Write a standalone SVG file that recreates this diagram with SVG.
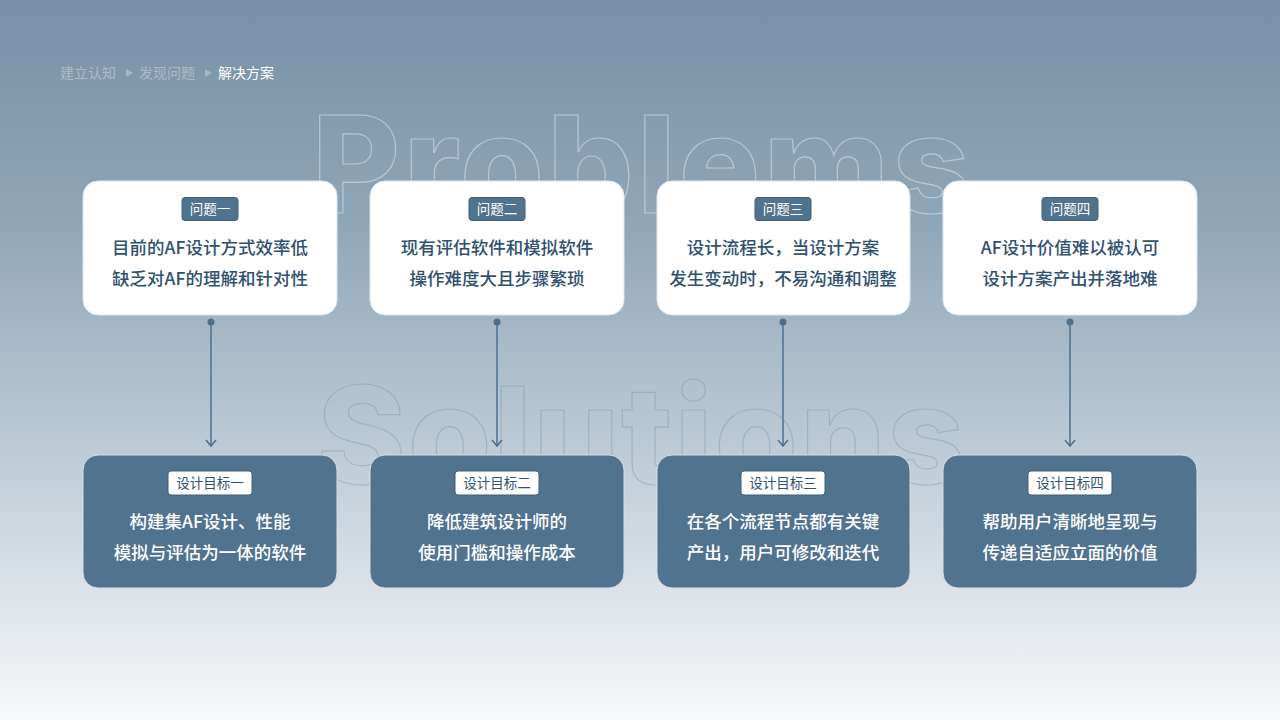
<svg xmlns="http://www.w3.org/2000/svg" width="1280" height="720" viewBox="0 0 1280 720">
<defs>
<linearGradient id="bg" x1="0" y1="0" x2="0" y2="1">
<stop offset="0" stop-color="#7891a7"/>
<stop offset="0.3" stop-color="#8ea5b7"/>
<stop offset="0.6" stop-color="#bac8d3"/>
<stop offset="0.85" stop-color="#e0e6eb"/>
<stop offset="1" stop-color="#f8f9fa"/>
</linearGradient>
<style>
.crumb{font-family:"Noto Sans CJK SC","Noto Sans",sans-serif;font-size:14px;}
.wm{font-family:Inter,"Liberation Sans",sans-serif;font-weight:800;font-size:135px;fill:none;stroke-width:1.2;}
.pcard{fill:#ffffff;stroke:#dfe6ec;stroke-width:1;}
.scard{fill:#50738f;stroke:#d6dee5;stroke-width:1;}
.ptag{fill:#50738f;stroke:#3f6079;stroke-width:1;}
.stag{fill:#ffffff;stroke:#3f6079;stroke-width:1;}
.tagt{font-family:"Noto Sans CJK SC",sans-serif;font-size:13.5px;text-anchor:middle;}
.body{font-family:"Noto Sans CJK SC",sans-serif;font-size:17.5px;font-weight:500;text-anchor:middle;}
.pbody{fill:#2f5271;}
.sbody{fill:#ffffff;}
.conn{stroke:#4d6f8c;stroke-width:1.5;fill:none;}
.dot{fill:#4d6f8c;}
</style>
</defs>
<rect width="1280" height="720" fill="url(#bg)"/>

<g id="breadcrumb">
<text class="crumb" x="60" y="78" fill="#ffffff" fill-opacity="0.35">建立认知</text>
<polygon points="126,69 126,77 133,73" fill="#ffffff" fill-opacity="0.3"/>
<text class="crumb" x="139" y="78" fill="#ffffff" fill-opacity="0.35">发现问题</text>
<polygon points="205,69 205,77 212,73" fill="#ffffff" fill-opacity="0.3"/>
<text class="crumb" x="218" y="78" fill="#ffffff">解决方案</text>
</g>

<g id="watermarks">
<text class="wm" x="312" y="213" textLength="658" lengthAdjust="spacing" stroke="#ffffff" stroke-opacity="0.4">Problems</text>
<text class="wm" x="317" y="484" textLength="648" lengthAdjust="spacing" stroke="#6e8da6" stroke-opacity="0.35">Solutions</text>
</g>

<g id="connectors">
<circle class="dot" cx="211" cy="322" r="3.5"/>
<line class="conn" x1="211" y1="322" x2="211" y2="446"/>
<polyline class="conn" points="206,440 211,446 216,440"/>
<circle class="dot" cx="497" cy="322" r="3.5"/>
<line class="conn" x1="497" y1="322" x2="497" y2="446"/>
<polyline class="conn" points="492,440 497,446 502,440"/>
<circle class="dot" cx="783" cy="322" r="3.5"/>
<line class="conn" x1="783" y1="322" x2="783" y2="446"/>
<polyline class="conn" points="778,440 783,446 788,440"/>
<circle class="dot" cx="1070" cy="322" r="3.5"/>
<line class="conn" x1="1070" y1="322" x2="1070" y2="446"/>
<polyline class="conn" points="1065,440 1070,446 1075,440"/>
</g>

<g id="problem1">
<rect class="pcard" x="83" y="181" width="254" height="134" rx="15"/>
<rect class="ptag" x="182" y="197.5" width="56" height="23" rx="3"/>
<text class="tagt" x="210" y="214" fill="#ffffff">问题一</text>
<text class="body pbody" x="210" y="254">目前的AF设计方式效率低</text>
<text class="body pbody" x="210" y="285">缺乏对AF的理解和针对性</text>
</g>
<g id="problem2">
<rect class="pcard" x="370" y="181" width="254" height="134" rx="15"/>
<rect class="ptag" x="469" y="197.5" width="56" height="23" rx="3"/>
<text class="tagt" x="497" y="214" fill="#ffffff">问题二</text>
<text class="body pbody" x="497" y="254">现有评估软件和模拟软件</text>
<text class="body pbody" x="497" y="285">操作难度大且步骤繁琐</text>
</g>
<g id="problem3">
<rect class="pcard" x="657" y="181" width="253" height="134" rx="15"/>
<rect class="ptag" x="755" y="197.5" width="56" height="23" rx="3"/>
<text class="tagt" x="783" y="214" fill="#ffffff">问题三</text>
<text class="body pbody" x="783" y="254">设计流程长，当设计方案</text>
<text class="body pbody" x="783" y="285">发生变动时，不易沟通和调整</text>
</g>
<g id="problem4">
<rect class="pcard" x="943" y="181" width="254" height="134" rx="15"/>
<rect class="ptag" x="1042" y="197.5" width="56" height="23" rx="3"/>
<text class="tagt" x="1070" y="214" fill="#ffffff">问题四</text>
<text class="body pbody" x="1070" y="254">AF设计价值难以被认可</text>
<text class="body pbody" x="1070" y="285">设计方案产出并落地难</text>
</g>

<g id="goal1">
<rect class="scard" x="83" y="455" width="254" height="133" rx="15"/>
<rect class="stag" x="168" y="471" width="84" height="24" rx="3"/>
<text class="tagt" x="210" y="488" fill="#2f5271">设计目标一</text>
<text class="body sbody" x="210" y="528">构建集AF设计、性能</text>
<text class="body sbody" x="210" y="559">模拟与评估为一体的软件</text>
</g>
<g id="goal2">
<rect class="scard" x="370" y="455" width="254" height="133" rx="15"/>
<rect class="stag" x="455" y="471" width="84" height="24" rx="3"/>
<text class="tagt" x="497" y="488" fill="#2f5271">设计目标二</text>
<text class="body sbody" x="497" y="528">降低建筑设计师的</text>
<text class="body sbody" x="497" y="559">使用门槛和操作成本</text>
</g>
<g id="goal3">
<rect class="scard" x="657" y="455" width="253" height="133" rx="15"/>
<rect class="stag" x="741" y="471" width="84" height="24" rx="3"/>
<text class="tagt" x="783" y="488" fill="#2f5271">设计目标三</text>
<text class="body sbody" x="783" y="528">在各个流程节点都有关键</text>
<text class="body sbody" x="783" y="559">产出，用户可修改和迭代</text>
</g>
<g id="goal4">
<rect class="scard" x="943" y="455" width="254" height="133" rx="15"/>
<rect class="stag" x="1028" y="471" width="84" height="24" rx="3"/>
<text class="tagt" x="1070" y="488" fill="#2f5271">设计目标四</text>
<text class="body sbody" x="1070" y="528">帮助用户清晰地呈现与</text>
<text class="body sbody" x="1070" y="559">传递自适应立面的价值</text>
</g>
</svg>
